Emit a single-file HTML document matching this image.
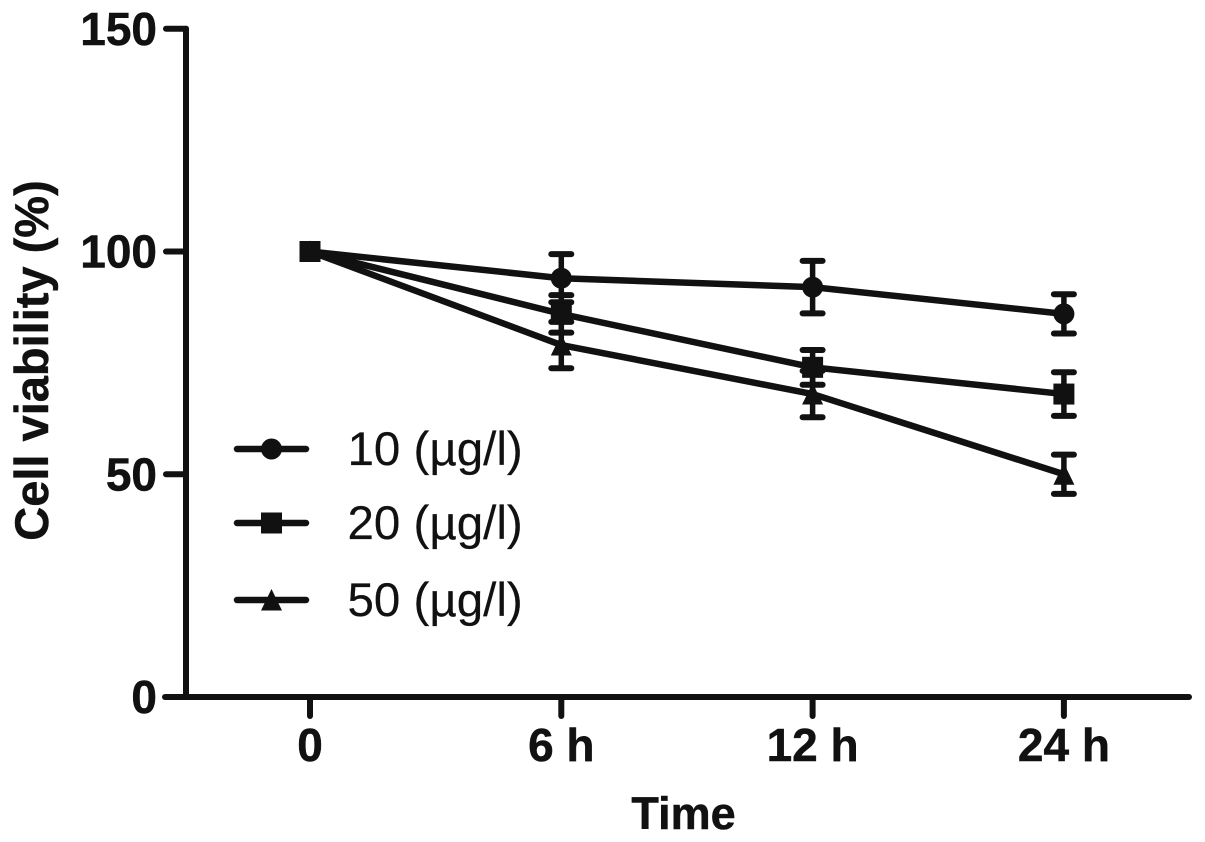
<!DOCTYPE html>
<html lang="en">
<head>
<meta charset="utf-8">
<title>Cell viability over time</title>
<style>
html,body{margin:0;padding:0;background:#fff;width:1205px;height:842px;overflow:hidden}
svg{display:block}
text{font-family:"Liberation Sans",sans-serif;fill:#111}
.bold{font-weight:700;font-size:46px;stroke:#111;stroke-width:0.5px}
.legend{font-size:47.5px;stroke:#111;stroke-width:0.2px}
</style>
</head>
<body>
<svg id="chart" width="1205" height="842" viewBox="0 0 1205 842" xmlns="http://www.w3.org/2000/svg">
  <text class="bold" transform="translate(48,360.5) rotate(-90)" text-anchor="middle" style="font-size:47px">Cell viability (%)</text>
  <text class="bold" x="683.5" y="829" text-anchor="middle" style="font-size:45px">Time</text>
</svg>
<script>
const categories = ['0', '6 h', '12 h', '24 h'];
const yTicks = [0, 50, 100, 150];
const seriesNames = ['10 (µg/l)', '20 (µg/l)', '50 (µg/l)'];
const series10 = [100, 94, 92, 86];
const series20 = [100, 86, 74, 68];
const series50 = [100, 79, 68, 50];
const err10 = [0, 5.4, 5.9, 4.4];
const err20 = [0, 4.2, 3.9, 4.9];
const err50 = [0, 5.2, 5.2, 4.4];

const NS = 'http://www.w3.org/2000/svg';
const svg = document.getElementById('chart');
const INK = '#111';
const yScale = function (v) { return 697 - v * 4.455; };
const xScale = function (i) { return 310 + i * 251.3; };

function make(tag, attrs) {
  const el = document.createElementNS(NS, tag);
  Object.keys(attrs).forEach(function (k) { el.setAttribute(k, attrs[k]); });
  svg.appendChild(el);
  return el;
}
function stroke(x1, y1, x2, y2, w) {
  return make('line', { x1: x1, y1: y1, x2: x2, y2: y2, stroke: INK, 'stroke-width': w, 'stroke-linecap': 'round' });
}
function marker(kind, x, y) {
  if (kind === 0) return make('circle', { cx: x, cy: y, r: 10.5, fill: INK });
  if (kind === 1) return make('rect', { x: x - 10.5, y: y - 10.5, width: 21, height: 21, fill: INK });
  return make('polygon', { points: (x) + ',' + (y - 11) + ' ' + (x + 10.5) + ',' + (y + 10.5) + ' ' + (x - 10.5) + ',' + (y + 10.5), fill: INK });
}

// axes
const yAxis = stroke(186, yScale(150), 186, yScale(0), 6);


const xAxis = stroke(165, yScale(0), 1189, yScale(0), 6);



yTicks.forEach(function (t) {
  const tick = stroke(166, yScale(t), 186, yScale(t), 6);
  
  
  const label = make('text', { x: 157, y: yScale(t) + 16, 'text-anchor': 'end', class: 'bold' });
  label.textContent = t;
  
  
});

categories.forEach(function (c, i) {
  const tick = stroke(xScale(i), 697, xScale(i), 716, 6);
  
  
  const label = make('text', { x: xScale(i), y: 761, 'text-anchor': 'middle', class: 'bold' });
  label.textContent = c;
  
  
});

// series
const allValues = [series10, series20, series50];
const allErrors = [err10, err20, err50];
allValues.forEach(function (vals, s) {
  const errs = allErrors[s];
  const pts = vals.map(function (v, i) { return xScale(i) + ',' + yScale(v); }).join(' ');
  const line = make('polyline', { points: pts, fill: 'none', stroke: INK, 'stroke-width': 6.5, 'stroke-linejoin': 'round' });
  
  
  vals.forEach(function (v, i) {
    const x = xScale(i);
    if (errs[i] > 0) {
      const top = yScale(v + errs[i]);
      const bottom = yScale(v - errs[i]);
      const stem = stroke(x, top, x, bottom, 5.5);
      
      
      const capTop = stroke(x - 10, top, x + 10, top, 6);
      
      
      const capBottom = stroke(x - 10, bottom, x + 10, bottom, 6);
      
      
    }
    const m = marker(s, x, yScale(v));
    
    
  });
});

// legend
const legendRowY = [449, 523, 600];
seriesNames.forEach(function (name, s) {
  const y = legendRowY[s];
  const sample = stroke(237, y, 306, y, 6.5);
  
  
  const m = marker(s, 271.5, y);
  
  
  const label = make('text', { x: 347.5, y: y + 16, class: 'legend' });
  label.textContent = name;
  
  
});
</script>
</body>
</html>
